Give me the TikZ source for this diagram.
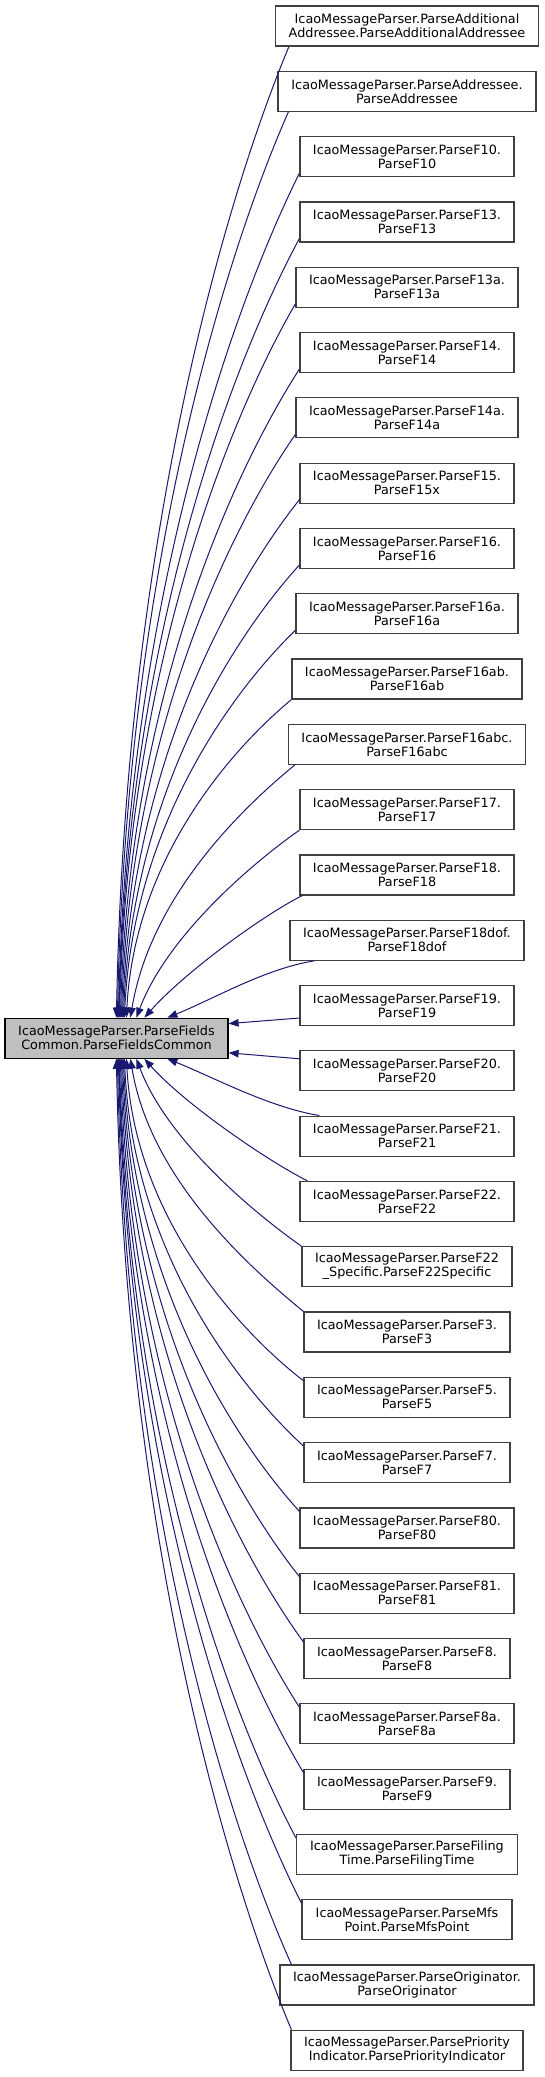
\documentclass[tikz,border=0pt]{standalone}
\usepackage{fontspec}
\setmainfont{DejaVu Sans}
\usepackage{tikz}
\usetikzlibrary{arrows.meta}
\definecolor{CallNavy}{HTML}{191970}
\definecolor{FocusGrey}{HTML}{BFBFBF}
\definecolor{FrameGrey}{HTML}{404040}

\begin{document}
\begin{tikzpicture}[
    x=1pt, y=1pt,
    func/.style={draw=FrameGrey, line width=1.2pt, fill=white, minimum width=#1, minimum height=40pt,
                 inner sep=2pt, align=center, font=\fontsize{12.8}{14}\selectfont},
    call/.style={->, draw=CallNavy, line width=1pt},
    >={Triangle[length=10pt, width=7.5pt]}
]
    \useasboundingbox (0,0) rectangle (544,-2077);

    % Function being called (highlighted)
    \node[func=223pt, draw=black, fill=FocusGrey] (common) at (116.5,-1038.2)
        {IcaoMessageParser.ParseFields\\Common.ParseFieldsCommon};

    % Callers (one column on the right)
    \node[func=263pt] (addl) at (407,-26) {IcaoMessageParser.ParseAdditional\\Addressee.ParseAdditionalAddressee};
    \node[func=258pt] (addr) at (407,-91.3) {IcaoMessageParser.ParseAddressee.\\ParseAddressee};
    \node[func=214pt] (f10) at (407,-156.6) {IcaoMessageParser.ParseF10.\\ParseF10};
    \node[func=214pt] (f13) at (407,-221.9) {IcaoMessageParser.ParseF13.\\ParseF13};
    \node[func=222pt] (f13a) at (407,-287.2) {IcaoMessageParser.ParseF13a.\\ParseF13a};
    \node[func=214pt] (f14) at (407,-352.5) {IcaoMessageParser.ParseF14.\\ParseF14};
    \node[func=222pt] (f14a) at (407,-417.8) {IcaoMessageParser.ParseF14a.\\ParseF14a};
    \node[func=214pt] (f15) at (407,-483.1) {IcaoMessageParser.ParseF15.\\ParseF15x};
    \node[func=214pt] (f16) at (407,-548.4) {IcaoMessageParser.ParseF16.\\ParseF16};
    \node[func=222pt] (f16a) at (407,-613.7) {IcaoMessageParser.ParseF16a.\\ParseF16a};
    \node[func=230pt] (f16ab) at (407,-679) {IcaoMessageParser.ParseF16ab.\\ParseF16ab};
    \node[func=237pt] (f16abc) at (407,-744.3) {IcaoMessageParser.ParseF16abc.\\ParseF16abc};
    \node[func=214pt] (f17) at (407,-809.6) {IcaoMessageParser.ParseF17.\\ParseF17};
    \node[func=214pt] (f18) at (407,-874.9) {IcaoMessageParser.ParseF18.\\ParseF18};
    \node[func=234pt] (f18dof) at (407,-940.2) {IcaoMessageParser.ParseF18dof.\\ParseF18dof};
    \node[func=214pt] (f19) at (407,-1005.5) {IcaoMessageParser.ParseF19.\\ParseF19};
    \node[func=214pt] (f20) at (407,-1070.8) {IcaoMessageParser.ParseF20.\\ParseF20};
    \node[func=214pt] (f21) at (407,-1136.1) {IcaoMessageParser.ParseF21.\\ParseF21};
    \node[func=214pt] (f22) at (407,-1201.4) {IcaoMessageParser.ParseF22.\\ParseF22};
    \node[func=210pt] (f22s) at (407,-1266.7) {IcaoMessageParser.ParseF22\\\_Specific.ParseF22Specific};
    \node[func=206pt] (f3) at (407,-1332) {IcaoMessageParser.ParseF3.\\ParseF3};
    \node[func=206pt] (f5) at (407,-1397.3) {IcaoMessageParser.ParseF5.\\ParseF5};
    \node[func=206pt] (f7) at (407,-1462.6) {IcaoMessageParser.ParseF7.\\ParseF7};
    \node[func=214pt] (f80) at (407,-1527.9) {IcaoMessageParser.ParseF80.\\ParseF80};
    \node[func=214pt] (f81) at (407,-1593.2) {IcaoMessageParser.ParseF81.\\ParseF81};
    \node[func=206pt] (f8) at (407,-1658.5) {IcaoMessageParser.ParseF8.\\ParseF8};
    \node[func=214pt] (f8a) at (407,-1723.8) {IcaoMessageParser.ParseF8a.\\ParseF8a};
    \node[func=206pt] (f9) at (407,-1789.1) {IcaoMessageParser.ParseF9.\\ParseF9};
    \node[func=221pt] (filing) at (407,-1854.4) {IcaoMessageParser.ParseFiling\\Time.ParseFilingTime};
    \node[func=210pt] (mfs) at (407,-1919.7) {IcaoMessageParser.ParseMfs\\Point.ParseMfsPoint};
    \node[func=254pt] (orig) at (407,-1985) {IcaoMessageParser.ParseOriginator.\\ParseOriginator};
    \node[func=232pt] (prio) at (407,-2050.3) {IcaoMessageParser.ParsePriority\\Indicator.ParsePriorityIndicator};

    % Calls from the upper callers (into the top side)
    \draw[call] ([xshift=14pt]addl.south west) .. controls +(-61,-146) and +(9,486) .. ([xshift=112pt]common.north west);
    \draw[call] ([xshift=11pt]addr.south west) .. controls +(-60,-136) and +(9,454) .. ([xshift=113pt]common.north west);
    \draw[call] ([yshift=4pt]f10.south west) .. controls +(-63,-127) and +(9,423) .. ([xshift=114pt]common.north west);
    \draw[call] ([yshift=4pt]f13.south west) .. controls +(-63,-117) and +(9,390) .. ([xshift=114.5pt]common.north west);
    \draw[call] ([yshift=4pt]f13a.south west) .. controls +(-62,-107) and +(9,358) .. ([xshift=115pt]common.north west);
    \draw[call] ([yshift=4pt]f14.south west) .. controls +(-63,-98) and +(9,325) .. ([xshift=116pt]common.north west);
    \draw[call] ([yshift=4pt]f14a.south west) .. controls +(-61,-88) and +(9,293) .. ([xshift=117pt]common.north west);
    \draw[call] ([yshift=4pt]f15.south west) .. controls +(-62,-78) and +(9,260) .. ([xshift=118pt]common.north west);
    \draw[call] ([yshift=4pt]f16.south west) .. controls +(-62,-68) and +(9,227) .. ([xshift=119pt]common.north west);
    \draw[call] ([yshift=4pt]f16a.south west) .. controls +(-60,-58) and +(9,195) .. ([xshift=120pt]common.north west);
    \draw[call] (f16ab.south west) .. controls +(-58,-48) and +(8,160) .. ([xshift=122pt]common.north west);
    \draw[call] ([xshift=7pt]f16abc.south west) .. controls +(-55,-45) and +(20,120) .. ([xshift=126pt]common.north west);
    \draw[call] (f17.south west) .. controls +(-50,-35) and +(30,80) .. ([xshift=132pt]common.north west);
    \draw[call] ([xshift=3pt]f18.south west) .. controls +(-40,-20) and +(40,45) .. ([xshift=140pt]common.north west);
    \draw[call] ([xshift=25pt]f18dof.south west) .. controls +(-50,-8) and +(45,18) .. ([xshift=163pt]common.north west);

    % Calls into the right side
    \draw[call] ([yshift=-12.5pt]f19.west) -- ([yshift=-6pt]common.north east);
    \draw[call] ([yshift=12pt]f20.west) -- ([yshift=6pt]common.south east);

    % Calls from the lower callers (into the bottom side)
    \draw[call] ([xshift=20pt]f21.north west) .. controls +(-50,8) and +(45,-18) .. ([xshift=163pt]common.south west);
    \draw[call] ([xshift=8pt]f22.north west) .. controls +(-40,20) and +(40,-45) .. ([xshift=140pt]common.south west);
    \draw[call] (f22s.north west) .. controls +(-50,35) and +(30,-80) .. ([xshift=132pt]common.south west);
    \draw[call] (f3.north west) .. controls +(-55,45) and +(20,-120) .. ([xshift=126pt]common.south west);
    \draw[call] ([yshift=-4pt]f5.north west) .. controls +(-62,48) and +(9,-161) .. ([xshift=122pt]common.south west);
    \draw[call] ([yshift=-4pt]f7.north west) .. controls +(-63,58) and +(9,-195) .. ([xshift=120pt]common.south west);
    \draw[call] ([yshift=-4pt]f80.north west) .. controls +(-62,68) and +(9,-227) .. ([xshift=119pt]common.south west);
    \draw[call] ([yshift=-4pt]f81.north west) .. controls +(-62,78) and +(9,-260) .. ([xshift=118pt]common.south west);
    \draw[call] ([yshift=-4pt]f8.north west) .. controls +(-64,88) and +(9,-292) .. ([xshift=117pt]common.south west);
    \draw[call] ([yshift=-4pt]f8a.north west) .. controls +(-63,98) and +(9,-325) .. ([xshift=116pt]common.south west);
    \draw[call] ([yshift=-4pt]f9.north west) .. controls +(-64,107) and +(9,-357) .. ([xshift=115pt]common.south west);
    \draw[call] ([yshift=-4pt]filing.north west) .. controls +(-62,117) and +(9,-390) .. ([xshift=114.5pt]common.south west);
    \draw[call] ([yshift=-4pt]mfs.north west) .. controls +(-64,127) and +(9,-423) .. ([xshift=114pt]common.south west);
    \draw[call] ([xshift=12pt]orig.north west) .. controls +(-61,136) and +(9,-453) .. ([xshift=113pt]common.south west);
    \draw[call] ([xshift=1pt]prio.north west) .. controls +(-61,146) and +(9,-486) .. ([xshift=112pt]common.south west);
\end{tikzpicture}
\end{document}
